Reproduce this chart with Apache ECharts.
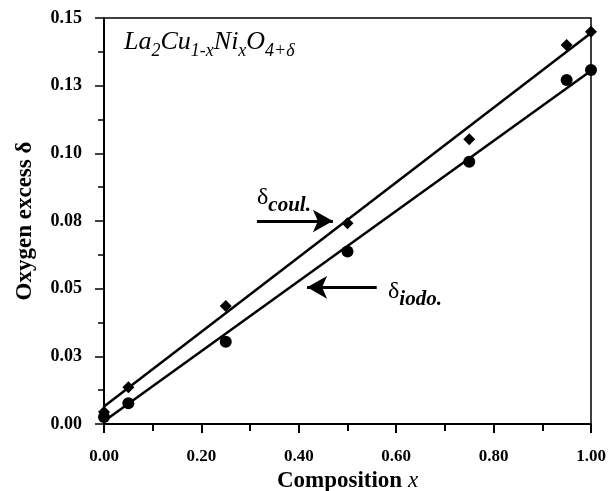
<!DOCTYPE html>
<html>
<head>
<meta charset="utf-8">
<script src="https://cdn.jsdelivr.net/npm/echarts@6/dist/echarts.min.js"></script>
<style>html,body{margin:0;padding:0;background:#fff}#c{width:611px;height:491px}</style>
</head>
<body>
<div id="c"></div>
<script>
// Data
var compX = [0.00, 0.05, 0.25, 0.50, 0.75, 0.95, 1.00];
var deltaCoul = [0.0044, 0.0136, 0.0436, 0.0742, 0.1052, 0.1400, 0.1449];
var deltaIodo = [0.0026, 0.0077, 0.0304, 0.0637, 0.0969, 0.1271, 0.1308];
var fitX = [0.0, 1.0];
var fitCoul = [0.0065, 0.1445];
var fitIodo = [0.0010, 0.1305];
var yTickLabels = ['0.00', '0.03', '0.05', '0.08', '0.10', '0.13', '0.15'];
var xTickLabels = ['0.00', '0.20', '0.40', '0.60', '0.80', '1.00'];
// annotation arrows (data coords)
var coulArrow = [[0.314, 0.0750], [0.470, 0.0750]];
var iodoArrow = [[0.560, 0.0505], [0.417, 0.0505]];

function pairs(xs, ys) { return xs.map(function (x, i) { return [x, ys[i]]; }); }

var serif = '"Liberation Serif", "DejaVu Serif", serif';
var chart = echarts.init(document.getElementById('c'), null, {renderer: 'canvas'});
var option = {
  animation: false,
  backgroundColor: '#fff',
  grid: {left: 104, right: 20, top: 18, bottom: 67, containLabel: false, outerBoundsMode: 'none',
    show: true, borderColor: '#000', borderWidth: 1.5, backgroundColor: 'transparent'},
  title: [
    {
      left: 119, top: 24,
      text: '{m|La}{s|2}{m|Cu}{s|1-x}{m|Ni}{s|x}{m|O}{s|4+δ}',
      textStyle: {
        fontWeight: 'normal',
        rich: {
          m: {fontFamily: serif, fontStyle: 'italic', fontWeight: 'normal', fontSize: 26, color: '#000', verticalAlign: 'top'},
          s: {fontFamily: serif, fontStyle: 'italic', fontWeight: 'normal', fontSize: 18, color: '#000', verticalAlign: 'top', padding: [13, 0, 0, 0]}
        }
      }
    },
    {
      left: 252, top: 181,
      text: '{d|δ}{s|coul.}',
      textStyle: {
        fontWeight: 'normal',
        rich: {
          d: {fontFamily: serif, fontWeight: 'normal', fontSize: 24, color: '#000', verticalAlign: 'top'},
          s: {fontFamily: serif, fontStyle: 'italic', fontWeight: 'bold', fontSize: 21, color: '#000', verticalAlign: 'top', padding: [9, 0, 0, 0]}
        }
      }
    },
    {
      left: 383, top: 275,
      text: '{d|δ}{s|iodo.}',
      textStyle: {
        fontWeight: 'normal',
        rich: {
          d: {fontFamily: serif, fontWeight: 'normal', fontSize: 24, color: '#000', verticalAlign: 'top'},
          s: {fontFamily: serif, fontStyle: 'italic', fontWeight: 'bold', fontSize: 21, color: '#000', verticalAlign: 'top', padding: [9, 0, 0, 0]}
        }
      }
    }
  ],
  xAxis: {
    type: 'value', min: 0, max: 1, interval: 0.2,
    name: 'Composition {i|x}',
    nameLocation: 'middle', nameGap: 42,
    nameTextStyle: {fontFamily: serif, fontWeight: 'bold', fontSize: 23, color: '#000',
      rich: {i: {fontFamily: serif, fontStyle: 'italic', fontWeight: 'normal', fontSize: 23, color: '#000'}}},
    axisLine: {onZero: false, lineStyle: {color: '#000', width: 2}},
    axisTick: {show: true, inside: false, length: 9, lineStyle: {color: '#000', width: 2}},
    minorTick: {show: true, splitNumber: 2, length: 7, lineStyle: {color: '#000', width: 2}},
    splitLine: {show: false},
    axisLabel: {margin: 24, fontFamily: serif, fontWeight: 'bold', fontSize: 17, color: '#000',
      formatter: function (v) { return xTickLabels[Math.round(v / 0.2)]; }}
  },
  yAxis: {
    type: 'value', min: 0, max: 0.15, interval: 0.025,
    name: 'Oxygen excess δ',
    nameLocation: 'middle', nameGap: 67, nameRotate: 90,
    nameTextStyle: {fontFamily: serif, fontWeight: 'bold', fontSize: 23, color: '#000'},
    axisLine: {onZero: false, lineStyle: {color: '#000', width: 2}},
    axisTick: {show: true, inside: false, length: 9, lineStyle: {color: '#000', width: 1.5}},
    minorTick: {show: true, splitNumber: 2, length: 6, lineStyle: {color: '#000', width: 1.5}},
    splitLine: {show: false},
    axisLabel: {margin: 22, fontFamily: serif, fontWeight: 'bold', fontSize: 18, color: '#000',
      formatter: function (v) { return yTickLabels[Math.round(v / 0.025)]; }}
  },
  series: [
    {
      type: 'line', data: pairs(fitX, fitCoul), symbol: 'none', silent: true,
      lineStyle: {color: '#000', width: 2.5}, z: 3,
      markLine: {
        silent: true, symbol: ['none', 'arrow'], symbolSize: [17, 20], label: {show: false},
        lineStyle: {color: '#000', width: 3, type: 'solid'},
        data: [[{coord: coulArrow[0]}, {coord: coulArrow[1]}]]
      }
    },
    {
      type: 'line', data: pairs(fitX, fitIodo), symbol: 'none', silent: true,
      lineStyle: {color: '#000', width: 2.5}, z: 3,
      markLine: {
        silent: true, symbol: ['none', 'arrow'], symbolSize: [17, 20], label: {show: false},
        lineStyle: {color: '#000', width: 3, type: 'solid'},
        data: [[{coord: iodoArrow[0]}, {coord: iodoArrow[1]}]]
      }
    },
    {
      type: 'scatter', data: pairs(compX, deltaCoul), symbol: 'diamond', symbolSize: 12,
      itemStyle: {color: '#000', opacity: 1}, z: 4
    },
    {
      type: 'scatter', data: pairs(compX, deltaIodo), symbol: 'circle', symbolSize: 12,
      itemStyle: {color: '#000', opacity: 1}, z: 4
    }
  ]
};
chart.setOption(option);
</script>
</body>
</html>
